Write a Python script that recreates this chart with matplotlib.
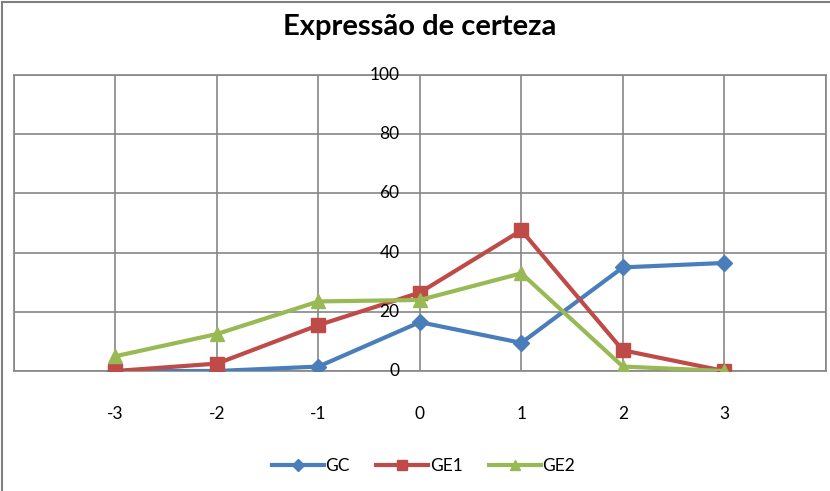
import matplotlib.pyplot as plt
from matplotlib.patches import Rectangle

# data
x = [-3, -2, -1, 0, 1, 2, 3]
gc = [0, 0, 1.5, 16.5, 9.5, 35, 36.5]
ge1 = [0, 2.5, 15.5, 26.5, 47.5, 7, 0]
ge2 = [5, 12.5, 23.5, 24, 33, 1.5, 0]
yticks = [0, 20, 40, 60, 80, 100]

plt.rcParams['font.family'] = ['Lato', 'DejaVu Sans']

fig = plt.figure(figsize=(8.3, 4.91), dpi=100)
ax = fig.add_axes([0.0169, 0.2444, 0.978, 0.6029])

ax.plot(x, gc, color='#4A7EBB', lw=3, marker='D', ms=8, label='GC', zorder=3)
ax.plot(x, ge1, color='#BE4B48', lw=3, marker='s', ms=10, label='GE1', zorder=3)
ax.plot(x, ge2, color='#98B954', lw=3, marker='^', ms=10, label='GE2', zorder=3)

ax.set_xlim(-4, 4)
ax.set_ylim(0, 100)
ax.set_xticks(range(-4, 5))
ax.set_yticks(yticks)
ax.grid(True, color='#868686', lw=1.2)
ax.tick_params(length=0, labelbottom=False, labelleft=False)
for s in ax.spines.values():
    s.set_color('#868686')
    s.set_linewidth(1.2)

# y labels sit next to the axis at x=0, x labels below the plot
for v in yticks:
    ax.text(-0.2, v, str(v), ha='right', va='center', fontsize=12.5)
for v in x:
    ax.text(v, -14.5, str(v), ha='center', va='center', fontsize=12.5)

fig.text(0.506, 0.945, 'Expressão de certeza', ha='center', va='center',
         fontsize=21, fontweight='bold')

fig.legend(loc='center', bbox_to_anchor=(0.51, 0.05), ncol=3, frameon=False,
           fontsize=12.5, handlelength=3, columnspacing=1.5, handletextpad=0.1,
           markerscale=0.75)

fig.patches.append(Rectangle((0.003, -0.01), 1.2, 1.006, transform=fig.transFigure,
                             fill=False, edgecolor='#7F7F7F', lw=1.5))

fig.savefig('out.png', dpi=100)
